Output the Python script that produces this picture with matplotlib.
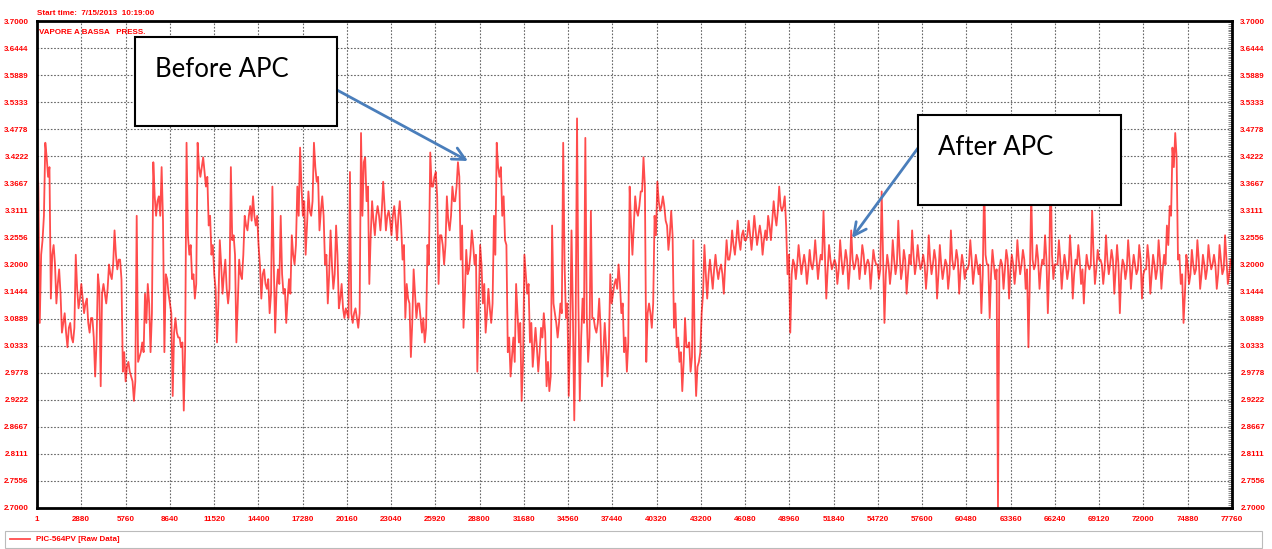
import numpy as np
import matplotlib.pyplot as plt
from matplotlib.ticker import MultipleLocator
from matplotlib.patches import Rectangle

start_time = "Start time:  7/15/2013  10:19:00"
tag_title = "VAPORE A BASSA   PRESS."
series_name = "PIC-564PV [Raw Data]"

x_ticks = [1, 2880, 5760, 8640, 11520, 14400, 17280, 20160, 23040, 25920,
           28800, 31680, 34560, 37440, 40320, 43200, 46080, 48960, 51840,
           54720, 57600, 60480, 63360, 66240, 69120, 72000, 74880, 77760]
y_ticks = [3.7000, 3.6444, 3.5889, 3.5333, 3.4778, 3.4222, 3.3667, 3.3111,
           3.2556, 3.2000, 3.1444, 3.0889, 3.0333, 2.9778, 2.9222, 2.8667,
           2.8111, 2.7556, 2.7000]

# values, 16 per 2880-sample grid column
# swing = the excursions (pink strokes), core = the dense red band
swing_before_apc = [
    3.43, 3.08, 3.25, 3.45, 3.38, 3.13, 3.24, 3.12, 3.19, 3.06, 3.10, 3.03, 3.08, 3.04, 3.22, 3.11,
    3.16, 3.10, 3.13, 3.06, 3.09, 2.97, 3.18, 2.95, 3.16, 3.12, 3.20, 3.17, 3.27, 3.19, 3.21, 2.98,
    2.96, 3.00, 2.97, 2.92, 3.30, 3.01, 3.04, 3.14, 3.16, 3.02, 3.41, 3.30, 3.34, 3.40, 3.02, 3.17,
    3.12, 2.93, 3.09, 3.05, 3.03, 2.90, 3.45, 3.22, 3.17, 3.13, 3.45, 3.38, 3.42, 3.36, 3.28, 3.22,
    3.18, 3.04, 3.25, 3.14, 3.21, 3.12, 3.40, 3.26, 3.04, 3.21, 3.17, 3.30, 3.27, 3.32, 3.34, 3.28,
    3.24, 3.13, 3.19, 3.15, 3.10, 3.36, 3.06, 3.19, 3.30, 3.14, 3.08, 3.17, 3.26, 3.20, 3.36, 3.44,
    3.30, 3.22, 3.35, 3.30, 3.45, 3.37, 3.27, 3.34, 3.20, 3.12, 3.27, 3.15, 3.28, 3.11, 3.16, 3.09,
    3.10, 3.39, 3.08, 3.11, 3.07, 3.47, 3.41, 3.33, 3.16, 3.33, 3.26, 3.32, 3.27, 3.37, 3.27, 3.31,
    3.26, 3.32, 3.25, 3.33, 3.21, 3.09, 3.13, 3.01, 3.19, 3.09, 3.12, 3.06, 3.04, 3.24, 3.43, 3.36,
    3.39, 3.16, 3.26, 3.20, 3.34, 3.27, 3.36, 3.33, 3.41, 3.21, 3.07, 3.23, 3.19, 3.27, 3.20, 2.98,
    3.24, 3.12, 3.06, 3.15, 3.08, 3.30, 3.45, 3.38, 3.30, 3.25, 3.02, 2.97, 3.05, 3.16, 3.04, 2.92,
    3.22, 3.14, 3.04, 2.99, 3.07, 2.98, 3.07, 3.10, 2.95, 2.94, 3.28, 3.10, 3.05, 3.12, 3.45, 3.09,
    2.93, 3.27, 2.88, 3.50, 2.92, 3.13, 3.46, 3.00, 3.31, 3.09, 3.06, 3.13, 2.95, 3.08, 2.97, 3.18,
    3.14, 3.17, 3.20, 3.10, 3.02, 2.98, 3.36, 3.22, 3.34, 3.30, 3.35, 3.42, 3.00, 3.12, 3.07, 3.30,
    3.37, 3.31, 3.34, 3.29, 3.23, 3.31, 3.07, 3.03, 3.00, 2.94, 3.09, 3.03, 2.98, 3.25, 2.93, 3.00,
]
core_before_apc = [
    3.36, 3.22, 3.30, 3.42, 3.40, 3.22, 3.20, 3.16, 3.14, 3.08, 3.06, 3.07, 3.05, 3.07, 3.15, 3.13,
    3.13, 3.12, 3.08, 3.09, 3.05, 3.04, 3.15, 3.14, 3.14, 3.15, 3.18, 3.20, 3.22, 3.21, 3.17, 3.02,
    2.99, 2.98, 2.96, 2.96, 3.00, 3.02, 3.02, 3.08, 3.12, 3.10, 3.34, 3.33, 3.30, 3.29, 3.18, 3.14,
    3.10, 3.06, 3.06, 3.05, 3.04, 3.03, 3.26, 3.24, 3.18, 3.16, 3.40, 3.40, 3.39, 3.38, 3.30, 3.24,
    3.15, 3.12, 3.20, 3.18, 3.15, 3.15, 3.25, 3.22, 3.12, 3.18, 3.22, 3.28, 3.30, 3.29, 3.30, 3.30,
    3.20, 3.18, 3.16, 3.17, 3.14, 3.20, 3.15, 3.16, 3.18, 3.15, 3.13, 3.14, 3.22, 3.24, 3.30, 3.36,
    3.33, 3.28, 3.31, 3.33, 3.40, 3.38, 3.31, 3.30, 3.22, 3.18, 3.20, 3.18, 3.22, 3.13, 3.11, 3.11,
    3.09, 3.10, 3.10, 3.09, 3.10, 3.30, 3.42, 3.36, 3.26, 3.29, 3.30, 3.30, 3.31, 3.32, 3.30, 3.29,
    3.30, 3.29, 3.30, 3.28, 3.24, 3.16, 3.12, 3.08, 3.14, 3.12, 3.09, 3.09, 3.07, 3.20, 3.36, 3.38,
    3.34, 3.26, 3.24, 3.24, 3.29, 3.30, 3.33, 3.36, 3.38, 3.28, 3.14, 3.18, 3.22, 3.24, 3.22, 3.12,
    3.20, 3.16, 3.10, 3.11, 3.12, 3.22, 3.40, 3.40, 3.34, 3.24, 3.05, 3.01, 3.00, 3.10, 3.08, 3.00,
    3.18, 3.16, 3.08, 3.03, 3.03, 3.02, 3.05, 3.06, 3.00, 2.97, 3.12, 3.08, 3.08, 3.10, 3.20, 3.12,
    3.05, 3.10, 3.08, 3.12, 3.05, 3.08, 3.10, 3.05, 3.09, 3.07, 3.08, 3.07, 3.02, 3.03, 3.03, 3.12,
    3.16, 3.15, 3.16, 3.12, 3.05, 3.04, 3.28, 3.28, 3.31, 3.32, 3.35, 3.36, 3.10, 3.10, 3.12, 3.26,
    3.33, 3.32, 3.32, 3.28, 3.26, 3.26, 3.12, 3.05, 3.02, 3.00, 3.03, 3.04, 3.01, 3.02, 2.99, 3.02,
]
swing_after_apc = [
    3.10, 3.24, 3.13, 3.21, 3.15, 3.22, 3.17, 3.20, 3.14, 3.25, 3.21, 3.27, 3.22, 3.29, 3.23, 3.27,
    3.25, 3.29, 3.23, 3.30, 3.24, 3.28, 3.22, 3.27, 3.30, 3.25, 3.33, 3.28, 3.36, 3.31, 3.34, 3.18,
    3.06, 3.21, 3.17, 3.24, 3.18, 3.22, 3.16, 3.23, 3.19, 3.25, 3.17, 3.22, 3.31, 3.13, 3.24, 3.19,
    3.21, 3.16, 3.25, 3.18, 3.23, 3.15, 3.27, 3.19, 3.22, 3.17, 3.24, 3.18, 3.21, 3.15, 3.23, 3.20,
    3.17, 3.35, 3.08, 3.22, 3.16, 3.25, 3.18, 3.29, 3.17, 3.23, 3.14, 3.22, 3.27, 3.18, 3.24, 3.19,
    3.22, 3.15, 3.26, 3.18, 3.23, 3.13, 3.24, 3.17, 3.21, 3.15, 3.27, 3.19, 3.23, 3.14, 3.22, 3.17,
    3.19, 3.25, 3.16, 3.22, 3.18, 3.10, 3.37, 3.20, 3.09, 3.23, 3.17, 2.70, 3.21, 3.15, 3.23, 3.13,
    3.22, 3.16, 3.25, 3.18, 3.23, 3.15, 3.03, 3.35, 3.19, 3.24, 3.15, 3.21, 3.26, 3.10, 3.41, 3.17,
    3.20, 3.25, 3.15, 3.22, 3.17, 3.26, 3.13, 3.21, 3.24, 3.16, 3.12, 3.22, 3.19, 3.31, 3.16, 3.23,
    3.21, 3.16, 3.26, 3.18, 3.23, 3.14, 3.24, 3.10, 3.21, 3.17, 3.25, 3.15, 3.22, 3.18, 3.24, 3.13,
    3.19, 3.24, 3.14, 3.22, 3.17, 3.25, 3.15, 3.22, 3.28, 3.32, 3.44, 3.47, 3.21, 3.16, 3.08, 3.22,
    3.16, 3.23, 3.18, 3.25, 3.15, 3.22, 3.17, 3.24, 3.19, 3.22, 3.15, 3.24, 3.18, 3.26, 3.16, 3.21,
]
core_after_apc = [
    3.14, 3.18, 3.18, 3.18, 3.19, 3.19, 3.19, 3.18, 3.20, 3.21, 3.23, 3.24, 3.25, 3.25, 3.26, 3.25,
    3.26, 3.26, 3.26, 3.27, 3.26, 3.26, 3.25, 3.25, 3.28, 3.29, 3.30, 3.31, 3.32, 3.32, 3.28, 3.22,
    3.18, 3.20, 3.20, 3.21, 3.20, 3.20, 3.19, 3.20, 3.21, 3.21, 3.20, 3.21, 3.22, 3.19, 3.21, 3.20,
    3.20, 3.19, 3.21, 3.20, 3.21, 3.19, 3.21, 3.20, 3.21, 3.20, 3.22, 3.20, 3.20, 3.19, 3.21, 3.20,
    3.19, 3.21, 3.18, 3.20, 3.19, 3.21, 3.20, 3.22, 3.19, 3.21, 3.18, 3.20, 3.22, 3.20, 3.21, 3.20,
    3.20, 3.19, 3.21, 3.20, 3.21, 3.18, 3.20, 3.19, 3.20, 3.18, 3.21, 3.20, 3.21, 3.19, 3.20, 3.19,
    3.20, 3.21, 3.19, 3.20, 3.20, 3.18, 3.22, 3.20, 3.18, 3.20, 3.19, 3.19, 3.20, 3.19, 3.21, 3.19,
    3.20, 3.19, 3.21, 3.20, 3.21, 3.19, 3.17, 3.21, 3.20, 3.21, 3.19, 3.20, 3.21, 3.19, 3.22, 3.20,
    3.20, 3.21, 3.19, 3.20, 3.19, 3.21, 3.18, 3.20, 3.21, 3.19, 3.18, 3.20, 3.20, 3.22, 3.19, 3.21,
    3.20, 3.19, 3.21, 3.20, 3.21, 3.19, 3.20, 3.18, 3.20, 3.19, 3.21, 3.19, 3.20, 3.19, 3.21, 3.18,
    3.19, 3.21, 3.18, 3.20, 3.19, 3.21, 3.19, 3.20, 3.24, 3.30, 3.40, 3.42, 3.22, 3.18, 3.14, 3.20,
    3.18, 3.20, 3.19, 3.21, 3.18, 3.20, 3.19, 3.21, 3.20, 3.20, 3.18, 3.21, 3.19, 3.21, 3.18, 3.20,
]

swing = np.array(swing_before_apc + swing_after_apc)
core = np.array(core_before_apc + core_after_apc)
pv = np.empty(2 * len(swing))
pv[0::2] = swing
pv[1::2] = core
samples = np.linspace(1, 77760, len(pv))

plt.rcParams['font.family'] = ['Liberation Sans', 'DejaVu Sans']
plt.rcParams['font.weight'] = 'bold'

W, H = 1272, 549
fig = plt.figure(figsize=(W / 100, H / 100), dpi=100)
ax = fig.add_axes([37 / W, 1 - 508 / H, (1232 - 37) / W, (508 - 21) / H])

line, = ax.plot(samples, pv, color='red', lw=1.3, alpha=0.7, label=series_name)

ax.set_xlim(1, 77760)
ax.set_ylim(2.7, 3.7)
ax.set_xticks(x_ticks)
ax.set_xticklabels([str(t) for t in x_ticks])
ax.set_yticks(y_ticks)
ax.set_yticklabels([f'{v:.4f}' for v in y_ticks])
ax.tick_params(axis='both', length=0, labelsize=5.8, labelcolor='red', pad=6)
ax.tick_params(axis='y', labelright=True)
ax.yaxis.set_minor_locator(MultipleLocator(1 / 18 / 14))
ax.tick_params(axis='y', which='minor', left=False, right=True,
               direction='in', length=3, width=0.5, color='#555555')
ax.grid(True, color='#666666', linestyle=(0, (1.5, 1.5)), lw=0.8)
for s in ax.spines.values():
    s.set_linewidth(2)

fig.text(37 / W, 1 - 15 / H, start_time, color='red', fontsize=5.8, va='baseline')
ax.text(2 / 1195, 1 - 8 / 487, tag_title, transform=ax.transAxes, color='red',
        fontsize=5.8, va='top', ha='left')

# annotation boxes
box_style = dict(facecolor='white', edgecolor='black', lw=1.5, transform=fig.transFigure)
fig.add_artist(Rectangle((135 / W, 1 - 126 / H), 202 / W, 89 / H, **box_style))
fig.add_artist(Rectangle((918 / W, 1 - 205 / H), 203 / W, 90 / H, **box_style))
fig.text(155 / W, 1 - 77 / H, 'Before APC', fontsize=18.5, family='Lato',
         fontweight='normal', color='black', va='baseline')
fig.text(938 / W, 1 - 155 / H, 'After APC', fontsize=18.5, family='Lato',
         fontweight='normal', color='black', va='baseline')

arrow = dict(arrowstyle='->,head_length=0.9,head_width=0.45', color='#4a7ebb',
             lw=2, shrinkA=0, shrinkB=0)
ax.annotate('', xy=(468 / W, 1 - 161 / H), xycoords='figure fraction',
            xytext=(337 / W, 1 - 90 / H), textcoords='figure fraction',
            arrowprops=arrow, annotation_clip=False)
ax.annotate('', xy=(852 / W, 1 - 238 / H), xycoords='figure fraction',
            xytext=(918 / W, 1 - 148 / H), textcoords='figure fraction',
            arrowprops=arrow, annotation_clip=False)

leg = fig.legend(handles=[line], labels=[series_name], loc='upper left',
                 bbox_to_anchor=(5 / W, 0, 1257 / W, 1 - 531 / H), mode='expand',
                 fancybox=False, edgecolor='#aaaaaa', fontsize=5.8, labelcolor='red',
                 handlelength=2.5, borderaxespad=0, borderpad=0.6)
leg.get_frame().set_linewidth(0.8)

fig.savefig('out.png', dpi=100)
